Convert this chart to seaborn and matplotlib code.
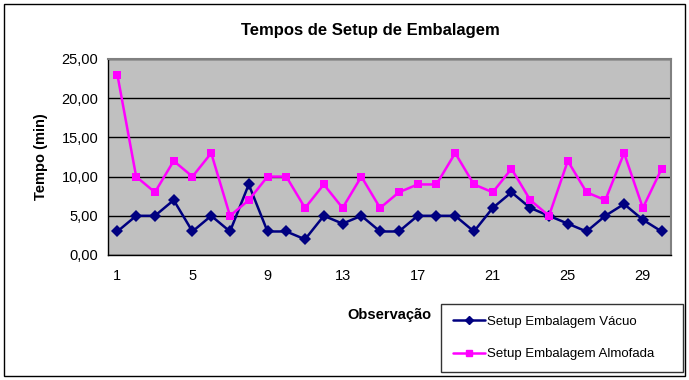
import numpy as np
import pandas as pd
import seaborn as sns
import matplotlib.pyplot as plt
from matplotlib.patches import Rectangle
from matplotlib.ticker import FuncFormatter, MultipleLocator

observacao = list(range(1, 31))
vacuo = [3, 5, 5, 7, 3, 5, 3, 9, 3, 3, 2, 5, 4, 5, 3, 3, 5, 5, 5, 3,
         6, 8, 6, 5, 4, 3, 5, 6.5, 4.5, 3]
almofada = [23, 10, 8, 12, 10, 13, 5, 7, 10, 10, 6, 9, 6, 10, 6, 8, 9, 9, 13, 9,
            8, 11, 7, 5, 12, 8, 7, 13, 6, 11]
series_names = ["Setup Embalagem Vácuo", "Setup Embalagem Almofada"]
xtick_labels = [1, 5, 9, 13, 17, 21, 25, 29]

df = pd.DataFrame({"obs": observacao, series_names[0]: vacuo, series_names[1]: almofada})
df = df.melt(id_vars="obs", var_name="serie", value_name="tempo")

sns.set_style("white")
plt.rcParams["font.family"] = ["Liberation Sans", "DejaVu Sans"]
plt.rcParams["text.color"] = "black"
plt.rcParams["axes.labelcolor"] = "black"
plt.rcParams["xtick.color"] = "black"
plt.rcParams["ytick.color"] = "black"

fig = plt.figure(figsize=(6.89, 3.80), dpi=100)
ax = fig.add_axes([108 / 689, 1 - 255 / 380, 563 / 689, 196 / 380])
ax.set_facecolor("#C0C0C0")

sns.lineplot(data=df, x="obs", y="tempo", hue="serie", style="serie",
             palette={series_names[0]: "#000080", series_names[1]: "#FF00FF"},
             markers={series_names[0]: "D", series_names[1]: "s"},
             dashes=False, markersize=6, linewidth=1.8, markeredgewidth=0,
             ax=ax, legend=False, zorder=3)

ax.set_xlim(0.5, 30.5)
ax.set_ylim(0, 25)
ax.yaxis.set_major_locator(MultipleLocator(5))
ax.yaxis.set_major_formatter(FuncFormatter(lambda v, p: f"{v:.2f}".replace(".", ",")))
ax.set_xticks(xtick_labels)
ax.set_xticklabels([str(v) for v in xtick_labels])
ax.set_xticks(np.arange(0.5, 31, 1), minor=True)
ax.tick_params(axis="x", which="major", length=0, pad=10, labelsize=10.5, labelcolor="black")
ax.tick_params(axis="x", which="minor", length=4, width=0.8, direction="out", color="black")
ax.tick_params(axis="y", length=4, width=0.8, direction="out", color="black",
               labelsize=10.5, labelcolor="black", pad=3)
ax.yaxis.grid(True, color="black", linewidth=1)
ax.xaxis.grid(False)
ax.set_axisbelow(True)

for s in ["top", "right"]:
    ax.spines[s].set_color("#808080")
    ax.spines[s].set_linewidth(1.5)
for s in ["left", "bottom"]:
    ax.spines[s].set_color("black")
    ax.spines[s].set_linewidth(1)

ax.set_xlabel("Observação", fontsize=10.5, fontweight="bold", labelpad=18, color="black")
ax.set_ylabel("Tempo (min)", fontsize=10.5, fontweight="bold", labelpad=10, color="black")
fig.text(370 / 689, 1 - 30 / 380, "Tempos de Setup de Embalagem",
         ha="center", va="center", fontsize=12, fontweight="bold", color="black")

handles = [plt.Line2D([], [], color="#000080", marker="D", markersize=4, linewidth=1.8),
           plt.Line2D([], [], color="#FF00FF", marker="s", markersize=5, linewidth=1.8)]
leg = fig.legend(handles, series_names, loc="lower left",
                 bbox_to_anchor=(441 / 689, 1 - 372 / 380, 242 / 689, 79 / 380),
                 mode="expand", frameon=True, fancybox=False, fontsize=9.5,
                 handlelength=2.4, handletextpad=0.2, labelspacing=1.5,
                 borderpad=0.9, borderaxespad=0)
leg.get_frame().set_edgecolor("black")
leg.get_frame().set_linewidth(1)

fig.patches.append(Rectangle((4 / 689, 4 / 380), 681 / 689, 372 / 380,
                             transform=fig.transFigure, fill=False,
                             edgecolor="black", linewidth=1))

fig.savefig("out.png", dpi=100)
